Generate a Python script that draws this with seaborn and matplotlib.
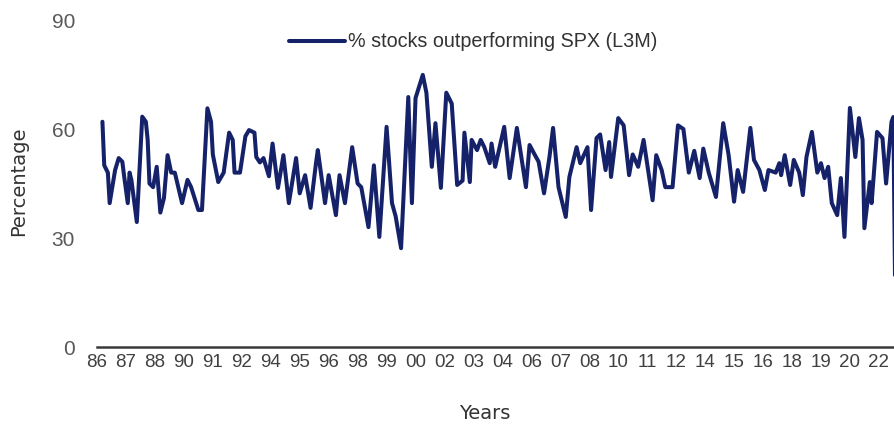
"""
% of stocks outperforming SPX over the last three months, 1986-2022.
"""
import pandas as pd
import seaborn as sns
import matplotlib.pyplot as plt

# months since Jan 1986 and the share of stocks beating the index
months = [3, 4, 6, 7, 10, 12, 14, 15, 17, 18,
          19, 22, 25, 27, 28, 29, 31, 33, 35, 37,
          39, 41, 43, 47, 50, 52, 56, 58, 61, 63,
          64, 67, 70, 73, 75, 76, 79, 82, 84, 87,
          88, 90, 92, 95, 97, 100, 103, 106, 110, 112,
          115, 118, 121, 122, 126, 128, 132, 134, 137, 141,
          144, 146, 150, 153, 156, 160, 163, 165, 168, 172,
          174, 176, 180, 182, 185, 187, 190, 193, 196, 199,
          202, 203, 206, 207, 210, 212, 214, 217, 218, 220,
          225, 228, 232, 237, 239, 242, 244, 247, 250, 252,
          255, 259, 261, 265, 267, 271, 273, 276, 278, 281,
          283, 284, 288, 291, 294, 296, 299, 302, 307, 309,
          312, 314, 318, 321, 324, 327, 330, 333, 335, 338,
          342, 346, 349, 352, 354, 357, 361, 363, 366, 369,
          371, 375, 377, 378, 380, 383, 385, 388, 390, 392,
          395, 398, 400, 402, 404, 406, 409, 411, 413, 416,
          419, 421, 423, 424, 427, 428, 431, 434, 436, 439,
          440, 441]

pct = [62, 50, 48, 39.6, 48.7, 52, 51, 47, 39.6, 48,
       46, 34.4, 63.4, 62, 57, 45, 44, 49.6, 37, 41,
       52.8, 48, 48, 39.6, 46, 44, 37.7, 37.7, 65.7, 62,
       53, 45.4, 48, 59, 57, 48, 48, 58, 59.7, 59,
       52.3, 50.8, 52, 47, 56, 43.8, 52.8, 39.6, 52, 42.3,
       47.3, 38.3, 50.6, 54.2, 39.6, 47.3, 36.3, 47.3, 39.6, 55,
       45, 44, 33, 50, 30.3, 60.6, 39.6, 36, 27.2, 68.8,
       39.6, 68.5, 74.9, 70, 49.6, 61.6, 43.8, 70, 67, 44.6,
       45.8, 59, 45.4, 57, 54.2, 57, 55, 50.6, 56, 49.6,
       60.6, 46.5, 60.3, 44, 55.6, 52.8, 51, 42.3, 52.3, 60.3,
       44, 35.8, 46.8, 55, 50.6, 55, 37.7, 57.5, 58.5, 48.7,
       56.4, 46.8, 63, 61, 47.3, 53, 49.6, 57, 40.4, 52.8,
       48.7, 44, 44, 61, 60, 48, 54, 46.5, 54.6, 48,
       41.3, 61.6, 52.8, 40, 48.7, 42.7, 60.3, 51.5, 48.7, 43.2,
       48.7, 48, 50.6, 47.3, 52.8, 44.6, 51.5, 48, 41.8, 52.3,
       59.2, 48, 50.6, 46.5, 49.6, 39.6, 36.3, 46.5, 30.3, 65.8,
       52.3, 63, 57, 32.7, 45.4, 39.6, 59.2, 57.5, 45, 62,
       63.3, 16]

# category axis labels every 16 months
tick_months = list(range(0, 433, 16))
tick_labels = ["%02d" % ((1986 + m // 12) % 100) for m in tick_months]
y_ticks = [0, 30, 60, 90]


def main():
    df = pd.DataFrame({"month": months, "pct": pct})

    sns.set_style("white")
    fig = plt.figure(figsize=(8.94, 4.25), dpi=100)
    # axes runs past the right edge like the cropped original
    ax = fig.add_axes([0.1085, 0.1835, 0.911, 0.7694])

    sns.lineplot(data=df, x="month", y="pct", ax=ax, color="#15226a",
                 linewidth=2.9, label="% stocks outperforming SPX (L3M)")

    ax.set_xlim(0, 450)
    ax.set_ylim(0, 90)
    ax.set_xticks(tick_months)
    ax.set_xticklabels(tick_labels, family="Liberation Sans",
                       fontsize=13.5, color="#404040")
    ax.set_yticks(y_ticks)
    ax.set_yticklabels([str(v) for v in y_ticks], family="Liberation Sans",
                       fontsize=15, color="#595959")
    ax.tick_params(axis="x", length=0, pad=5)
    ax.tick_params(axis="y", length=0, pad=15.8)

    for side in ["top", "right", "left"]:
        ax.spines[side].set_visible(False)
    ax.spines["bottom"].set_color("#3a3a3a")
    ax.spines["bottom"].set_linewidth(1.8)

    ax.set_xlabel("Years", fontsize=14, color="#333333")
    ax.set_ylabel("Percentage", fontsize=14, color="#333333")
    ax.xaxis.set_label_coords(0.476, -0.174)
    ax.yaxis.set_label_coords(-0.085, 0.508)

    leg = ax.legend(loc="center", bbox_to_anchor=(0.462, 0.933), frameon=False,
                    handlelength=2.8, handletextpad=0.15,
                    prop={"family": "Liberation Sans", "size": 14.2})
    for t in leg.get_texts():
        t.set_color("#333333")

    fig.savefig("out.png", dpi=100)


if __name__ == "__main__":
    main()
